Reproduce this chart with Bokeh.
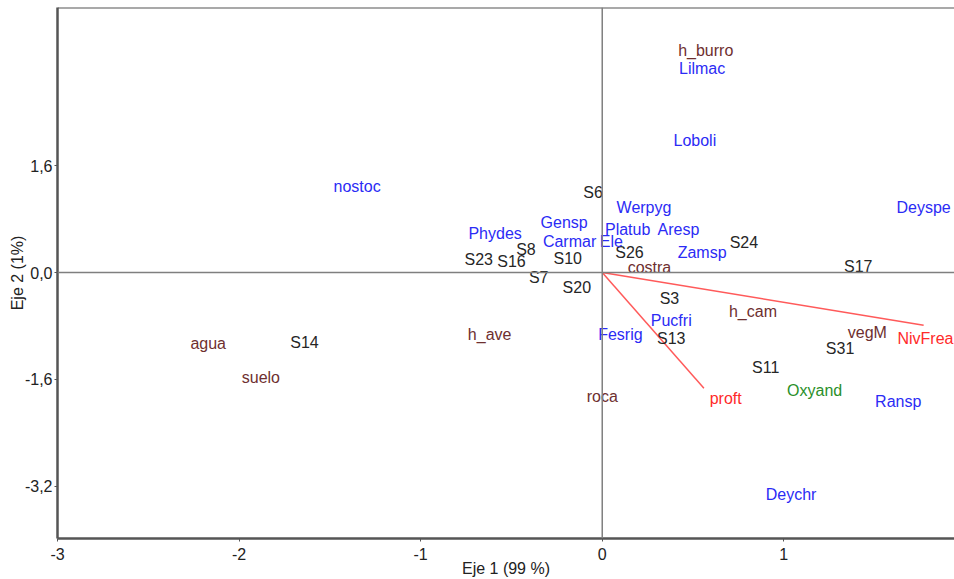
from bokeh.plotting import figure
from bokeh.models import ColumnDataSource, Span, FixedTicker, Range1d, CustomJSTickFormatter
from bokeh.core.properties import value
from bokeh.embed import file_html
from bokeh.resources import INLINE

# ---- data (CCA biplot scores) ----
site_labels = ["S6", "S8", "S23", "S16", "S10", "S7", "S20", "S26", "S24",
               "S17", "S3", "S13", "S11", "S31", "S14"]
site_x = [-0.05, -0.42, -0.68, -0.50, -0.19, -0.35, -0.14, 0.15, 0.78,
          1.41, 0.37, 0.38, 0.90, 1.31, -1.64]
site_y = [1.20, 0.35, 0.20, 0.16, 0.21, -0.08, -0.22, 0.30, 0.45,
          0.09, -0.39, -0.98, -1.42, -1.14, -1.05]

species_labels = ["nostoc", "Phydes", "Gensp", "Carmar", "Ele", "Werpyg", "Platub",
                  "Aresp", "Zamsp", "Lilmac", "Loboli", "Deyspe", "Pucfri",
                  "Fesrig", "Ransp", "Deychr"]
species_x = [-1.35, -0.59, -0.21, -0.18, 0.05, 0.23, 0.14, 0.42, 0.55, 0.55,
             0.51, 1.77, 0.38, 0.10, 1.63, 1.04]
species_y = [1.28, 0.59, 0.75, 0.46, 0.46, 0.97, 0.65, 0.65, 0.30, 3.05,
             1.98, 0.97, -0.72, -0.92, -1.93, -3.32]

green_labels = ["Oxyand"]
green_x = [1.17]
green_y = [-1.77]

env_labels = ["h_burro", "costra", "h_cam", "vegM", "roca", "h_ave", "agua", "suelo"]
env_x = [0.57, 0.26, 0.83, 1.46, 0.00, -0.62, -2.17, -1.88]
env_y = [3.32, 0.08, -0.58, -0.89, -1.85, -0.93, -1.06, -1.57]

vector_labels = ["NivFrea", "proft"]
vector_x = [1.77, 0.56]
vector_y = [-0.79, -1.73]
vector_label_x = [1.78, 0.68]
vector_label_y = [-0.99, -1.89]

x_ticks = [-3, -2, -1, 0, 1]
y_ticks = [-3.2, -1.6, 0.0, 1.6]

FONT = "Liberation Sans"
FS = "16px"
Y_TOP = 3.966

p = figure(width=954, height=579,
           x_range=Range1d(-3, 1.94), y_range=Range1d(-3.98, Y_TOP),
           output_backend="svg", toolbar_location=None,
           min_border_left=57, min_border_right=0,
           min_border_top=7, min_border_bottom=0)
p.grid.visible = False
p.outline_line_color = None
p.background_fill_color = "white"
p.border_fill_color = "white"

# axes
for ax in (p.xaxis[0], p.yaxis[0]):
    ax.axis_line_color = "#555555"
    ax.axis_line_width = 2.5
    ax.major_tick_line_color = "#555555"
    ax.major_tick_out = 3
    ax.major_tick_in = 0
    ax.minor_tick_line_color = None
    ax.major_label_text_font = FONT
    ax.major_label_text_font_size = FS
    ax.major_label_text_color = "#222222"
    ax.axis_label_text_font = FONT
    ax.axis_label_text_font_size = FS
    ax.axis_label_text_font_style = "normal"
    ax.axis_label_text_color = "#222222"

p.xaxis.ticker = FixedTicker(ticks=x_ticks)
p.yaxis.ticker = FixedTicker(ticks=y_ticks)
p.xaxis.formatter = CustomJSTickFormatter(code="return tick.toFixed(0);")
p.yaxis.formatter = CustomJSTickFormatter(code="return tick.toFixed(1).replace('.', ',');")
p.xaxis.axis_label = "Eje 1 (99 %)"
p.yaxis.axis_label = "Eje 2 (1%)"
p.xaxis.major_label_standoff = 6
p.xaxis.axis_label_standoff = -3
p.yaxis.major_label_standoff = 2
p.yaxis.axis_label_standoff = -4

# frame lines
p.add_layout(Span(location=Y_TOP, dimension="width", line_color="#555555", line_width=2))
p.add_layout(Span(location=0, dimension="height", line_color="#7f7f7f", line_width=1.5))
p.add_layout(Span(location=0, dimension="width", line_color="#7f7f7f", line_width=1.5))

# vectors
vsrc = ColumnDataSource(dict(x0=[0] * len(vector_x), y0=[0] * len(vector_y),
                             x=vector_x, y=vector_y, lx=vector_label_x,
                             ly=vector_label_y, label=vector_labels))
p.segment(x0="x0", y0="y0", x1="x", y1="y", source=vsrc,
          line_color="#ff5a5a", line_width=1.5)


def labels(xs, ys, texts, color):
    src = ColumnDataSource(dict(x=xs, y=ys, label=texts))
    p.text(x="x", y="y", text="label", source=src,
           text_font=value(FONT), text_font_size=value(FS), text_color=color,
           text_align="center", text_baseline="middle")


labels(site_x, site_y, site_labels, "#262626")
labels(species_x, species_y, species_labels, "#2b2bf5")
labels(green_x, green_y, green_labels, "#2a8f2a")
labels(env_x, env_y, env_labels, "#6e2f2f")
p.text(x="lx", y="ly", text="label", source=vsrc,
       text_font=value(FONT), text_font_size=value(FS), text_color="#ff2a2a",
       text_align="center", text_baseline="middle")

open("out.html", "w").write(file_html(p, INLINE))
